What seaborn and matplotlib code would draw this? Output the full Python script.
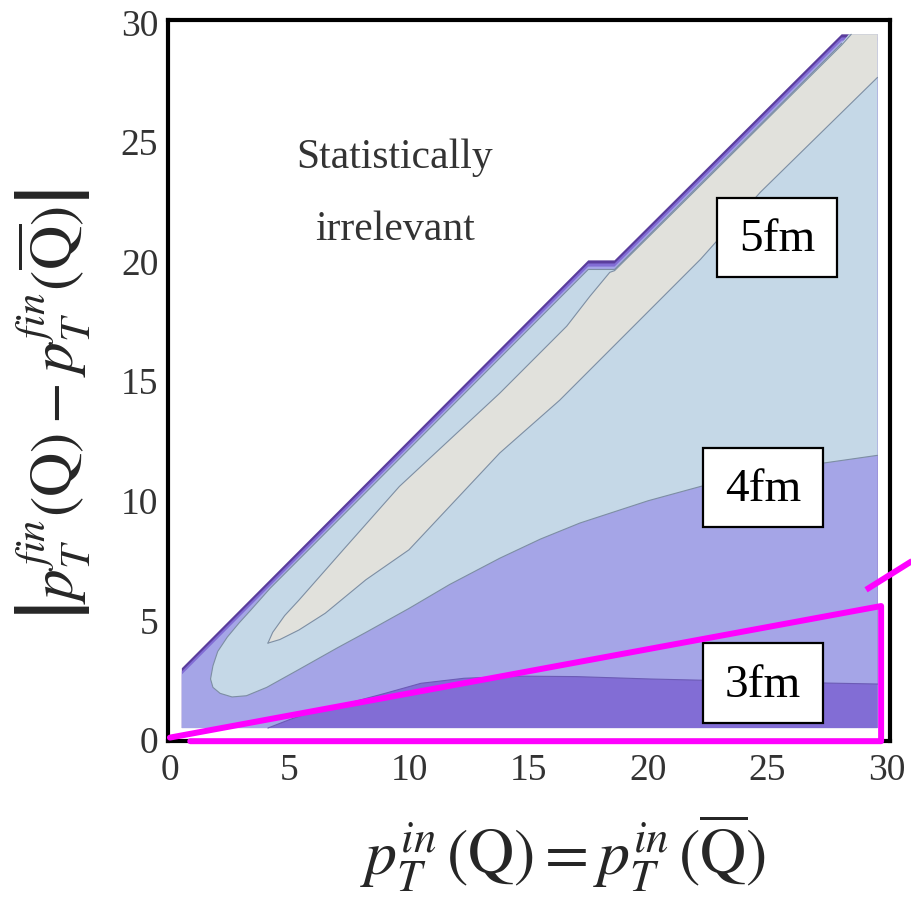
import matplotlib
matplotlib.use("Agg")
import matplotlib.pyplot as plt
import seaborn as sns
import pandas as pd
from matplotlib.patches import Rectangle

# ---------------- data ----------------
# upper edge of the computed domain
top_x = [0.5, 17.5, 18.6, 28.1, 29.6]
top_y = [3.0, 20.05, 20.05, 29.5, 29.5]
dom_bottom = 0.5
dom_left, dom_right = 0.5, 29.6

# light blue (5fm) region boundaries
blue_upper_x = [1.7, 1.8, 2.0, 2.4, 2.9, 3.4, 4.2, 5.0, 6.0, 17.5, 18.6, 28.1, 28.4, 29.6]
blue_upper_y = [2.55, 3.1, 3.7, 4.3, 4.9, 5.45, 6.35, 7.15, 8.15, 19.67, 19.67, 29.12, 29.5, 29.5]
blue_lower_x = [1.7, 1.8, 2.1, 2.6, 3.2, 4.05, 5.4, 7.0, 8.2, 10.0, 11.7, 13.8, 15.5, 17.15,
                20.0, 22.2, 25.0, 27.5, 29.6]
blue_lower_y = [2.55, 2.2, 1.95, 1.8, 1.85, 2.2, 2.95, 3.85, 4.5, 5.5, 6.5, 7.6, 8.4, 9.07,
                10.0, 10.6, 11.25, 11.6, 11.9]

# grey (innermost) region boundaries
gray_upper_x = [4.1, 4.3, 4.8, 5.4, 7.25, 9.6, 13.8, 16.6, 17.57, 18.4, 18.6, 28.1, 28.5, 29.6]
gray_upper_y = [4.05, 4.5, 5.2, 5.85, 7.95, 10.6, 14.5, 17.3, 18.55, 19.55, 19.62, 29.05, 29.5, 29.5]
gray_lower_x = [4.1, 4.6, 5.4, 6.5, 8.2, 10.0, 13.8, 16.3, 22.2, 24.7, 29.6]
gray_lower_y = [4.05, 4.2, 4.6, 5.3, 6.7, 7.95, 12.0, 14.2, 20.1, 22.9, 27.7]

# dark purple (3fm) region upper boundary
dark_x = [4.1, 5.0, 6.0, 7.5, 9.0, 10.5, 12.3, 14.6, 17.0, 20.1, 22.2, 25.0, 27.5, 29.6]
dark_y = [0.5, 0.85, 1.2, 1.55, 1.95, 2.37, 2.58, 2.67, 2.65, 2.55, 2.5, 2.45, 2.38, 2.34]

# labels
box_labels = ["5fm", "4fm", "3fm"]
box_cx = [25.4, 24.8, 24.8]
box_cy = [21.0, 10.55, 2.37]
note_lines = ["Statistically", "irrelevant"]
ticks = [0, 5, 10, 15, 20, 25, 30]

# magenta annotation
mag_x = [0.0, 29.75, 29.75, 0.85]
mag_y = [0.1, 5.6, -0.05, -0.05]
mag2_x = [29.12, 31.6]
mag2_y = [6.28, 7.83]

# ---------------- style ----------------
sns.set_style("white")
plt.rcParams["font.family"] = ["Liberation Serif", "DejaVu Serif"]
plt.rcParams["mathtext.fontset"] = "stix"

C_BAND = "#5a3d9c"
C_3FM = "#826dd5"
C_4FM = "#a5a5e7"
C_5FM = "#c5d8e7"
C_GRAY = "#e1e1dc"
C_LINE = "#7d8ea3"

fig = plt.figure(figsize=(9.11, 8.99), dpi=100)
ax = fig.add_axes([0.1844, 0.1758, 0.7925, 0.802])

# domain layers (with thin edge bands along the upper edge)
for off, col in [(0.0, C_BAND), (0.13, C_3FM), (0.26, C_4FM)]:
    xs = [dom_left, dom_right] + top_x[::-1]
    ys = [dom_bottom, dom_bottom] + [y - off for y in top_y[::-1]]
    ax.fill(xs, ys, color=col, lw=0, zorder=1)

# light blue region
xs = blue_upper_x + [dom_right] + blue_lower_x[::-1]
ys = blue_upper_y + [blue_lower_y[-1]] + blue_lower_y[::-1]
ax.fill(xs, ys, color=C_5FM, lw=0, zorder=2)

# grey region
xs = gray_upper_x + gray_lower_x[::-1]
ys = gray_upper_y + gray_lower_y[::-1]
ax.fill(xs, ys, color=C_GRAY, lw=0, zorder=3)

# dark 3fm region
xs = dark_x + [dom_right]
ys = dark_y + [dom_bottom]
ax.fill(xs, ys, color=C_3FM, lw=0, zorder=4)

# contour lines
line_sets = [
    (blue_lower_x, blue_lower_y, C_LINE),
    (blue_upper_x[:-2], blue_upper_y[:-2], C_LINE),
    (gray_upper_x[:-1], gray_upper_y[:-1], C_LINE),
    (gray_lower_x, gray_lower_y, C_LINE),
    (dark_x, dark_y, "#6c5bb5"),
]
for lx, ly, lc in line_sets:
    df = pd.DataFrame({"x": lx, "y": ly})
    sns.lineplot(data=df, x="x", y="y", ax=ax, color=lc, lw=0.8,
                 sort=False, estimator=None, zorder=5)

# label boxes
bw, bh = 5.02, 3.33
for lab, cx, cy in zip(box_labels, box_cx, box_cy):
    ax.add_patch(Rectangle((cx - bw / 2, cy - bh / 2), bw, bh, facecolor="white",
                           edgecolor="black", lw=1.6, zorder=6))
    ax.text(cx, cy - 0.1, lab, ha="center", va="center", fontsize=34,
            color="black", zorder=7)

for line, yb in zip(note_lines, [23.93, 20.92]):
    ax.text(9.4, yb, line, ha="center", va="baseline",
            fontsize=30, color="#333333", zorder=7)

# magenta annotation
sns.lineplot(x=mag_x, y=mag_y, ax=ax, color="#ff00ff", lw=4.3, sort=False,
             estimator=None, zorder=9, clip_on=False)
ax.plot(mag2_x, mag2_y, color="#ff00ff", lw=4.3, zorder=9, clip_on=False,
        solid_capstyle="butt")

# axes
ax.set_xlim(-0.08, 30.12)
ax.set_ylim(-0.04, 30.1)
ax.set_xticks(ticks)
ax.set_yticks(ticks)
ax.tick_params(direction="in", length=4, width=2.5, labelsize=27,
               labelcolor="#333333", color="black", pad=9)
ax.tick_params(axis="y", pad=7)
for s in ax.spines.values():
    s.set_visible(True)
    s.set_color("black")
    s.set_linewidth(3)
    s.set_zorder(8)
ax.set_xlabel("")
ax.set_ylabel("")

fig.text(0.618, 0.026,
         r"$p_T^{in}\,(\mathrm{Q}) = p_T^{in}\,(\overline{\mathrm{Q}})$",
         ha="center", va="baseline", fontsize=46)
fig.text(0.058, 0.55,
         r"$\left|p_T^{fin}(\mathrm{Q}) - p_T^{fin}(\overline{\mathrm{Q}})\right|$",
         ha="center", va="center", rotation=90, fontsize=44)

fig.savefig("out.png", dpi=100)
